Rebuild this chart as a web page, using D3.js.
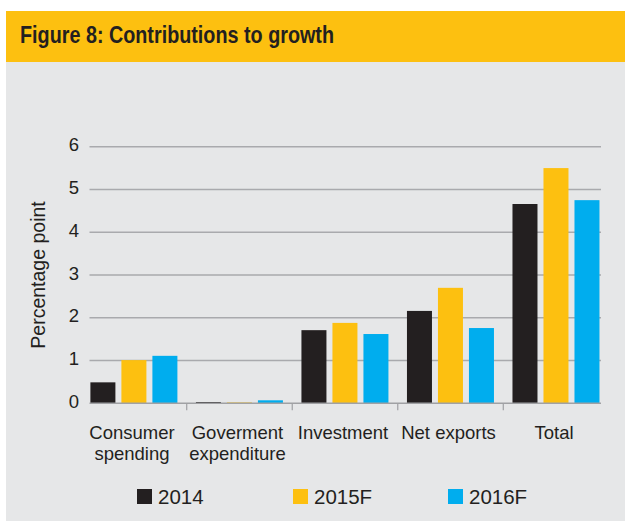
<!DOCTYPE html>
<html>
<head>
<meta charset="utf-8">
<script src="https://cdn.jsdelivr.net/npm/d3@7/dist/d3.min.js"></script>
<style>
  html, body { margin: 0; padding: 0; background: #ffffff; }
  svg { display: block; }
  text { font-family: "Liberation Sans", Arial, Helvetica, sans-serif; fill: #231f20; }
</style>
</head>
<body>
<svg id="chart" width="625" height="521"></svg>
<script>
// Contribution to growth by component, percentage points
const categories = [["Consumer", "spending"], ["Goverment", "expenditure"], ["Investment"], ["Net exports"], ["Total"]];
const seriesNames = ["2014", "2015F", "2016F"];
const values2014 = [0.49, 0.03, 1.71, 2.16, 4.66];
const values2015F = [1.01, 0.02, 1.88, 2.70, 5.50];
const values2016F = [1.11, 0.07, 1.62, 1.76, 4.75];
const yTicks = [0, 1, 2, 3, 4, 5, 6];
const titleText = "Figure 8: Contributions to growth";
const yTitle = "Percentage point";

const seriesValues = [values2014, values2015F, values2016F];
const colors = ["#231f20", "#fdc010", "#00adee"];

const svg = d3.select("#chart");

// panel background and header band
svg.append("rect").attr("x", 6).attr("y", 11).attr("width", 619).attr("height", 510).attr("fill", "#e6e7e8");
svg.append("rect").attr("x", 6).attr("y", 11).attr("width", 619).attr("height", 51).attr("fill", "#fdc010");
svg.append("text")
  .attr("x", 20).attr("y", 43)
  .attr("font-size", 24.5).attr("font-weight", "bold")
  .attr("textLength", 314).attr("lengthAdjust", "spacingAndGlyphs")
  .text(titleText);

const catKeys = categories.map(c => c.join(" "));
const x = d3.scaleBand().domain(catKeys).range([81.2, 608.8]).paddingInner(0).paddingOuter(0);
const xs = d3.scaleBand().domain(seriesNames).range([9.2, 96.2]).paddingInner(6 / 31).paddingOuter(0);
const y = d3.scaleLinear().domain([0, 6]).range([403.3, 146.7]);
const plotLeft = 89.5, plotRight = 601;

// horizontal gridlines
svg.append("g").selectAll("line").data(yTicks.filter(t => t > 0)).join("line")
  .attr("x1", plotLeft).attr("x2", plotRight)
  .attr("y1", d => y(d)).attr("y2", d => y(d))
  .attr("stroke", "#a9aaad").attr("stroke-width", 1.6);

// y tick labels
svg.append("g").selectAll("text").data(yTicks).join("text")
  .attr("x", 79).attr("y", d => y(d) - 2)
  .attr("text-anchor", "end").attr("dominant-baseline", "central")
  .attr("font-size", 18.5)
  .text(d => d);

// y axis title
svg.append("text")
  .attr("transform", `translate(45,${y(3)}) rotate(-90)`)
  .attr("text-anchor", "middle")
  .attr("font-size", 19.5)
  .text(yTitle);

// bars
const groups = svg.append("g").selectAll("g").data(catKeys).join("g")
  .attr("transform", d => `translate(${x(d)},0)`);
groups.selectAll("rect")
  .data((d, i) => seriesNames.map((s, j) => ({ s, v: seriesValues[j][i], c: colors[j] })))
  .join("rect")
  .attr("x", d => xs(d.s))
  .attr("width", xs.bandwidth())
  .attr("y", d => y(d.v))
  .attr("height", d => y(0) - y(d.v))
  .attr("fill", d => d.c);

// category axis line and separators
svg.append("line")
  .attr("x1", plotLeft).attr("x2", plotRight)
  .attr("y1", y(0)).attr("y2", y(0))
  .attr("stroke", "#a0a1a4").attr("stroke-width", 1.6);
svg.append("g").selectAll("line").data(catKeys.slice(1)).join("line")
  .attr("x1", d => x(d)).attr("x2", d => x(d))
  .attr("y1", y(0)).attr("y2", y(0) + 7)
  .attr("stroke", "#a0a1a4").attr("stroke-width", 1.2);

// category labels
const labels = svg.append("g").selectAll("text").data(categories).join("text")
  .attr("x", (d, i) => x(catKeys[i]) + x.bandwidth() / 2 - 2)
  .attr("y", 439)
  .attr("text-anchor", "middle")
  .attr("font-size", 18.5);
labels.selectAll("tspan").data(d => d).join("tspan")
  .attr("x", function () { return d3.select(this.parentNode).attr("x"); })
  .attr("dy", (d, i) => i === 0 ? 0 : 21)
  .text(d => d);

// legend
const legendX = [137, 293, 448];
const legend = svg.append("g").selectAll("g").data(seriesNames).join("g")
  .attr("transform", (d, i) => `translate(${legendX[i]},489)`);
legend.append("rect").attr("width", 15).attr("height", 15).attr("fill", (d, i) => colors[i]);
legend.append("text").attr("x", 21).attr("y", 15).attr("font-size", 20.5).text(d => d);
</script>
</body>
</html>
